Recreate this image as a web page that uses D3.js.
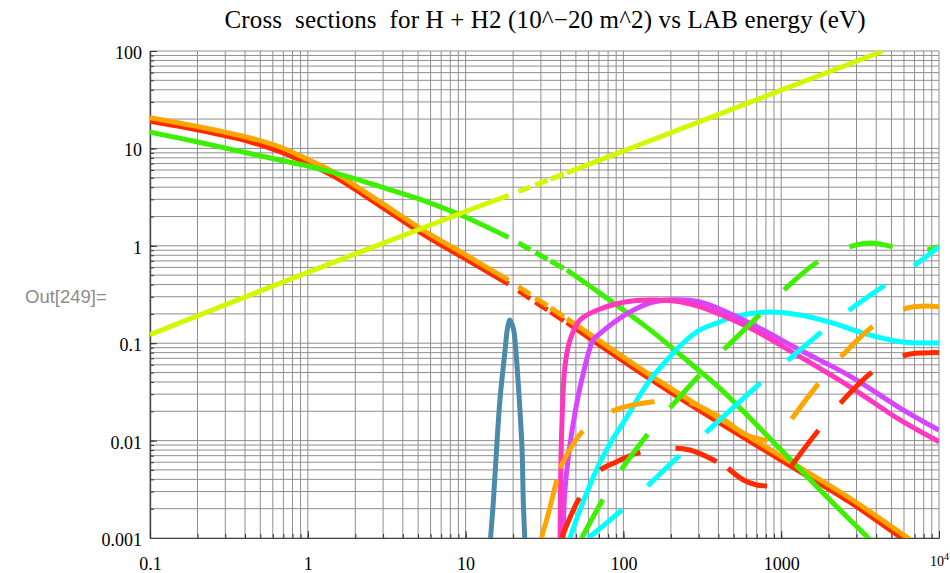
<!DOCTYPE html>
<html>
<head>
<meta charset="utf-8">
<script src="https://cdn.jsdelivr.net/npm/d3@7/dist/d3.min.js"></script>
<style>
  body { margin: 0; background: #fff; }
  svg { display: block; }
</style>
</head>
<body>
<div id="chart"></div>
<script>
const W = 950, H = 573;
const PLOT = {left: 150, right: 939, top: 51, bottom: 538};

// ---- data: [energy (eV), cross section (10^-20 m^2)] ----
const xMajor = [0.1, 1, 10, 100, 1000, 10000];
const xTickLabels = ['0.1', '1', '10', '100', '1000', '10^4'];
const yMajor = [0.001, 0.01, 0.1, 1, 10, 100];
const yTickLabels = ['0.001', '0.01', '0.1', '1', '10', '100'];

const redMain = [[0.1,19.0],[0.2075,15.3],[0.43,11.7],[0.66,9.3],[1.0,7.0],[1.486,5.1],[2.87,2.57],
  [5.37,1.32],[10.1,0.725],[18.7,0.405],[28.4,0.258],[43.8,0.163],[58.5,0.118],[147.6,0.043],
  [305,0.0203],[1000,0.00627],[2730,0.00233],[5800,0.001],[10000,0.00056]];
const orangeMain = [[0.1,20.7],[0.2075,16.6],[0.43,12.8],[0.66,10.4],[1.0,7.7],[1.486,5.6],[2.87,2.82],
  [5.37,1.45],[10.1,0.8],[18.7,0.445],[28.4,0.284],[43.8,0.179],[58.5,0.13],[147.6,0.047],
  [305,0.0223],[1000,0.0069],[2730,0.00256],[6350,0.001],[10000,0.00061]];
const greenMain = [[0.1,14.7],[0.2075,11.5],[0.66,7.6],[1.0,6.6],[1.486,5.6],[2.87,4.05],[5.37,2.93],
  [9.3,2.07],[18.7,1.22],[28.4,0.833],[43.8,0.564],[71.2,0.325],[147.6,0.137],[264,0.0626],
  [409,0.0344],[1000,0.008],[2037,0.00245],[3560,0.001],[5663,0.00045]];
const yellowMain = [[0.1,0.122],[1,0.534],[10,2.25],[18.7,3.3],[43.8,5.6],[100,9.4],[1000,39.6],[4420,100]];

const bluePeak = [[14.2,0.0007],[14.4,0.001],[15.0,0.0024],[15.7,0.008],[16.5,0.026],[17.8,0.085],
  [18.4,0.14],[19.1,0.173],[20.1,0.14],[20.8,0.085],[21.9,0.026],[22.8,0.008],[23.2,0.0024],
  [23.7,0.001],[23.9,0.0007]];
const cyanMain = [[43.1,0.0007],[45.9,0.001],[53.1,0.00194],[61.4,0.0035],[71.1,0.006],[84.7,0.0101],
  [102.4,0.0163],[127.4,0.0294],[147.6,0.0419],[189,0.0673],[239,0.1005],[305,0.137],[392,0.161],
  [495,0.186],[813,0.209],[1315,0.195],[2128,0.161],[3296,0.127],[5663,0.1035],[10000,0.1005]];
const purpleMain = [[41.2,0.0006],[41.6,0.001],[42.6,0.0031],[48.1,0.0151],[55.7,0.049],[64.4,0.108],
  [71.2,0.126],[102.4,0.195],[147.6,0.259],[189,0.278],[305,0.265],[634,0.16],[1315,0.085],
  [2730,0.046],[5663,0.0216],[10000,0.0128]];
const pinkMain = [[39.6,0.0006],[39.9,0.00245],[40.6,0.0119],[42.6,0.0574],[45.9,0.108],[53.1,0.173],
  [71.2,0.2245],[102.4,0.265],[147.6,0.278],[228.6,0.267],[305,0.237],[634,0.143],[1315,0.0727],
  [2730,0.0357],[5663,0.0163],[10000,0.00975]];

// long-dashed curves, each made of separate pieces (dash pattern restarts on every piece)
const orangeDashA = [[30.1,0.0008],[30.3,0.001],[33,0.00164],[37.8,0.00394]];
const orangeDashB = [[39.6,0.0052],[54.8,0.0123],[83.4,0.0198],[154.5,0.025],[256,0.025],[380,0.0185],[460,0.0155]];
const orangeDashC = [[460,0.0155],[576,0.0118],[700,0.0105],[809,0.0101],[914,0.0102],[1026,0.0124],
  [1194,0.0176],[1762,0.0403],[2455,0.0757],[3925,0.154],[6180,0.228],[8000,0.24],[10000,0.237]];
const redDashB = [[40.6,0.001],[51.8,0.00245],[69.3,0.0048],[90.8,0.00607],[121.4,0.0074],[202,0.00834],
  [264,0.008],[380,0.00622],[460,0.0052]];
const redDashC = [[460,0.0052],[576,0.00394],[700,0.0035],[809,0.00342],[914,0.0034],[1026,0.0041],
  [1194,0.00585],[1762,0.0134],[2415,0.025],[3925,0.053],[6180,0.0757],[8000,0.0795],[10000,0.08]];
const greenDashB = [[54.4,0.001],[72.8,0.00236],[95.1,0.0048],[139,0.011],[192,0.0206],[297,0.0453],
  [420,0.0818],[460,0.0947]];
const greenDashC = [[460,0.0947],[735,0.198],[1057,0.36],[1710,0.687],[2729,0.98],[3707,1.07],
  [5105,0.98],[7000,0.9],[8511,0.91],[10000,0.98]];
const cyanDashB = [[60.0,0.001],[95.1,0.00186],[140.6,0.00336],[222.8,0.00684],[329,0.0119],[460,0.0195]];
const cyanDashC = [[460,0.0195],[735,0.0387],[1109,0.0673],[1807,0.131],[2704,0.219],[4550,0.396],
  [7046,0.635],[10000,0.98]];

const COLORS = {
  red: '#ff2a00', orange: '#ffa500', green: '#3cf000', yellow: '#d4f700',
  blue: '#4b8aaa', cyan: '#00ffff', purple: '#d845ff', pink: '#ff38c0'
};

const MID_LO = 18.7, MID_HI = 43.8;               // short-dashed stretch of the four main curves
const MID_DASH_X = [0, 10, 11.7, 5, 12.3, 3, 13.3, 10]; // pattern measured along x (px)
const LONG_DASH = '44 35';
const LW = 5;
const serif = 'Liberation Serif, Times New Roman, serif';

// ---- scales ----
const x = d3.scaleLog().domain([0.1, 1e4]).range([PLOT.left, PLOT.right]);
const y = d3.scaleLog().domain([0.001, 100]).range([PLOT.bottom, PLOT.top]);

const svg = d3.select('#chart').append('svg')
  .attr('width', W).attr('height', H)
  .style('background', '#fff');

svg.append('defs').append('clipPath').attr('id', 'plot-clip')
  .append('rect')
    .attr('x', PLOT.left).attr('y', PLOT.top)
    .attr('width', PLOT.right - PLOT.left).attr('height', PLOT.bottom - PLOT.top);

// title
svg.append('text')
  .attr('x', 545).attr('y', 28)
  .attr('text-anchor', 'middle')
  .attr('font-family', serif)
  .attr('font-size', 25)
  .attr('textLength', 641)
  .style('white-space', 'pre')
  .text('Cross  sections  for H + H2 (10^\u221220 m^2) vs LAB energy (eV)');

// notebook output label
svg.append('text')
  .attr('x', 25).attr('y', 303)
  .attr('font-family', 'Liberation Sans, Arial, sans-serif')
  .attr('font-size', 18.5)
  .attr('fill', '#8c8c8c')
  .text('Out[249]=');

// grid
const grid = svg.append('g').attr('stroke', '#8f8f8f').attr('stroke-width', 1);
grid.selectAll('line.v').data(x.ticks()).join('line').attr('class', 'v')
  .attr('x1', d => x(d)).attr('x2', d => x(d))
  .attr('y1', PLOT.top).attr('y2', PLOT.bottom);
grid.selectAll('line.h').data(y.ticks()).join('line').attr('class', 'h')
  .attr('x1', PLOT.left).attr('x2', PLOT.right)
  .attr('y1', d => y(d)).attr('y2', d => y(d));

// axes
const yMinorG = svg.append('g').attr('transform', `translate(${PLOT.left},0)`)
  .call(d3.axisLeft(y).tickValues(y.ticks()).tickSize(-4).tickSizeOuter(0).tickFormat(''));
const yMajorG = svg.append('g').attr('transform', `translate(${PLOT.left},0)`)
  .call(d3.axisLeft(y).tickValues(yMajor).tickSize(-7).tickSizeOuter(0).tickPadding(8)
    .tickFormat((d, i) => yTickLabels[i]));
const xMinorG = svg.append('g').attr('transform', `translate(0,${PLOT.bottom})`)
  .call(d3.axisBottom(x).tickValues(x.ticks()).tickSize(-4).tickSizeOuter(0).tickFormat(''));
const xMajorG = svg.append('g').attr('transform', `translate(0,${PLOT.bottom})`)
  .call(d3.axisBottom(x).tickValues(xMajor).tickSize(-7).tickSizeOuter(0).tickPadding(19)
    .tickFormat((d, i) => xTickLabels[i]));

[yMinorG, yMajorG, xMinorG, xMajorG].forEach(g => {
  g.attr('font-family', serif).attr('font-size', 18);
  g.select('.domain').attr('stroke', '#444').attr('stroke-width', 1.2);
  g.selectAll('.tick line').attr('stroke', '#333');
  g.selectAll('.tick text').attr('fill', '#000');
});
yMajorG.selectAll('.tick text').attr('dy', '0.42em');

// 10^4 label with superscript
const lastX = xMajorG.selectAll('.tick text').filter((d, i) => i === xTickLabels.length - 1);
lastX.text(null).attr('dy', '0.52em');
lastX.append('tspan').attr('font-size', 14).text('10');
lastX.append('tspan').attr('font-size', 10).attr('dy', -6).text('4');

// ---- curves ----
const line = d3.line().x(d => x(d[0])).y(d => y(d[1])).curve(d3.curveCatmullRom.alpha(0.5));
const between = (data, lo, hi) => data.filter(d => d[0] >= lo && d[0] <= hi);
const plot = svg.append('g').attr('clip-path', 'url(#plot-clip)')
  .attr('fill', 'none').attr('stroke-width', LW);

function drawPath(data, color, dash) {
  const p = plot.append('path').datum(data).attr('d', line)
    .attr('stroke', color)
    .attr('stroke-linejoin', 'round');
  if (dash) p.attr('stroke-dasharray', dash);
  return p;
}

function drawMain(data, color) {
  drawPath(between(data, 0, MID_LO), color);
  const mid = drawPath(between(data, MID_LO, MID_HI), color);
  const k = mid.node().getTotalLength() / (x(MID_HI) - x(MID_LO));
  mid.attr('stroke-dasharray', MID_DASH_X.map(v => (v * k).toFixed(2)).join(' '));
  drawPath(between(data, MID_HI, Infinity), color);
}

drawMain(redMain, COLORS.red);
drawMain(orangeMain, COLORS.orange);
drawMain(greenMain, COLORS.green);
drawMain(yellowMain, COLORS.yellow);

drawPath(bluePeak, COLORS.blue);
drawPath(cyanMain, COLORS.cyan);
drawPath(purpleMain, COLORS.purple);
drawPath(pinkMain, COLORS.pink);

drawPath(orangeDashA, COLORS.orange);
drawPath(orangeDashB, COLORS.orange, LONG_DASH);
drawPath(orangeDashC, COLORS.orange, LONG_DASH);
drawPath(redDashB, COLORS.red, LONG_DASH);
drawPath(redDashC, COLORS.red, LONG_DASH);
drawPath(greenDashB, COLORS.green, LONG_DASH);
drawPath(greenDashC, COLORS.green, LONG_DASH);
drawPath(cyanDashB, COLORS.cyan, LONG_DASH);
drawPath(cyanDashC, COLORS.cyan, LONG_DASH);
</script>
</body>
</html>
